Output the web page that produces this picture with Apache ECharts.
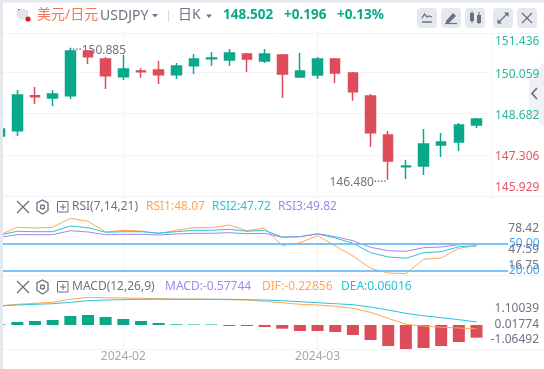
<!DOCTYPE html>
<html><head><meta charset="utf-8">
<style>html,body{margin:0;padding:0;background:#fff}#c{width:544px;height:369px}</style>
<script src="https://cdn.jsdelivr.net/npm/echarts@6/dist/echarts.min.js"></script>
</head><body><div id="c"></div>
<script>
const opens =[147.938,148.114,149.28,149.206,149.283,150.775,150.508,149.917,150.11,150.141,149.984,150.284,150.52,150.474,150.675,150.441,150.641,149.907,149.974,150.508,150.040,149.273,147.971,146.91,146.936,147.637,147.737,148.306];
const closes=[148.171,149.306,149.25,149.339,150.775,150.585,149.950,150.174,150.085,149.984,150.274,150.508,150.545,150.708,150.508,150.675,150.007,150.107,150.508,150.040,149.416,148.048,147.103,146.94,147.671,147.737,148.305,148.502];
const lows  =[147.90,147.938,149.006,148.939,149.173,150.341,149.506,149.807,149.884,149.673,149.840,150.007,150.284,150.274,150.074,150.374,149.206,149.89,149.840,149.707,149.116,147.570,146.480,146.502,146.636,147.237,147.437,148.205];
const highs =[148.20,149.473,149.573,149.473,150.885,150.808,150.575,150.641,150.197,150.441,150.374,150.675,150.741,150.842,150.708,150.842,150.675,150.708,150.575,150.541,150.074,149.339,148.104,147.136,148.171,148.038,148.371,148.538];
const rsi1=[59.80,68.39,67.61,68.39,78.42,75.08,63.15,65.04,64.26,61.25,65.04,67.94,67.94,70.95,64.60,67.61,47.88,51.22,59.02,47.54,36.39,22.68,17.44,16.75,32.71,34.17,44.98,48.07];
const rsi2=[59.80,63.93,63.48,63.48,69.84,67.94,62.81,63.48,63.48,62.03,63.48,65.04,65.04,66.16,63.93,65.04,57.57,57.91,60.92,56.46,50.55,40.07,35.28,33.83,40.07,41.19,46.76,47.72];
const rsi3=[57.24,60.14,60.14,60.14,64.60,63.15,60.14,60.58,60.58,59.80,60.92,61.70,61.70,62.37,61.25,61.70,57.24,57.91,61.25,57.91,53.45,46.09,42.30,41.63,45.65,46.42,48.99,49.82];
const dif=[.738,.796,.838,.880,1.005,1.088,1.071,1.059,1.046,1.030,1.017,1.017,1.005,.988,.975,.921,.863,.796,.767,.713,.630,.463,.213,-.037,-.108,-.162,-.19,-.22856];
const dea=[.725,.767,.796,.821,.880,.946,.975,.988,1.005,1.005,1.005,1.005,1.005,1.005,.988,.975,.946,.905,.863,.821,.780,.684,.559,.421,.321,.238,.155,.06016];
const macd=[.03,.136,.182,.227,.409,.455,.364,.273,.182,.091,.032,.023,.023,-.045,-.045,-.091,-.168,-.273,-.273,-.318,-.455,-.682,-.955,-1.091,-1.045,-.955,-.773,-.57744];
const priceTicks=[151.436,150.059,148.682,147.306,145.929];
const priceGridTicks=[150.059,148.682,147.306];
const rsiTicks=['78.42','47.59','16.75'];
const rsiLevels=[50,20];
const macdTicks=['1.10039','0.01774','-1.06492'];
const dateTickIdx=[7,18];
const dateTickLabels=['2024-02','2024-03'];

const GREEN='#0aa88a',RED='#dc4c5a',ORANGE='#ffa654',CYAN='#2cc3da',PURPLE='#a686e6',BLUE='#7cc2f8';
const GRAY='#6f7383',LINE='#f3f4f7',FILL='#e6e8ef',ICON='#6b7080',AXG='#2db79b',AXR='#e0566a';
const FONT='"Noto Sans","Noto Sans CJK SC",sans-serif';
const xMin=0.187,xMaxMain=27.82,xMaxRsi=28.78;
const idx=a=>a.map((v,i)=>[i,v]);
function xAx(gi,max,showLabel){return {type:'value',gridIndex:gi,min:xMin,max:max,
  axisLine:{show:false},
  axisTick:{show:false,customValues:dateTickIdx},
  splitLine:{show:true,lineStyle:{color:LINE,width:1}},
  axisLabel:{show:showLabel,customValues:dateTickIdx,margin:2,color:'#a3a7b5',fontSize:12,fontFamily:FONT,
    hideOverlap:false,formatter:v=>dateTickLabels[dateTickIdx.indexOf(v)]||''}};}

function txt(x,y,t,color,size,extra){return {type:'text',silent:true,x:x,y:y,z:20,style:Object.assign({text:t,fill:color,fontSize:size||12,fontFamily:FONT,textVerticalAlign:'middle',textAlign:'left'},extra||{})};}
function rect(x,y,w,h,fill,r){return {type:'rect',silent:true,z:15,shape:{x:x,y:y,width:w,height:h,r:r||0},style:{fill:fill}};}
function line(x1,y1,x2,y2,color,w){return {type:'line',silent:true,z:16,shape:{x1:x1,y1:y1,x2:x2,y2:y2},style:{stroke:color,lineWidth:w||1}};}
function poly(pts,fill,z){return {type:'polygon',silent:true,z:z===undefined?17:z,shape:{points:pts},style:{fill:fill}};}
function pl(pts,color,w){return {type:'polyline',silent:true,z:17,shape:{points:pts},style:{stroke:color,lineWidth:w||1.5,fill:null}};}
function tools(y){return [
  line(17,y-6,29,y+6,ICON,1.2),line(29,y-6,17,y+6,ICON,1.2),
  {type:'polygon',silent:true,z:17,shape:{points:[[42.5,y-7],[48,y-4],[48,y+3.5],[42.5,y+7],[37,y+3.5],[37,y-4]]},style:{fill:null,stroke:ICON,lineWidth:1.3}},
  {type:'circle',silent:true,z:17,shape:{cx:42.5,cy:y,r:2},style:{fill:null,stroke:ICON,lineWidth:1.3}},
  {type:'rect',silent:true,z:17,shape:{x:57.5,y:y-5.5,width:10.5,height:10.5},style:{fill:null,stroke:ICON,lineWidth:1}},
  line(60,y,66,y,ICON,1),line(63,y-3,63,y+3,ICON,1)
];}

const graphics=[
  rect(0,0,544,2.5,FILL),rect(0,0,3,369,FILL),
  line(3,33.5,544,33.5,LINE,1),line(491.5,33,491.5,197,LINE,1),line(3,196.5,544,196.5,LINE,1.5),
  line(3,275.5,544,275.5,LINE,1),line(3,349.5,544,349.5,LINE,1),
  // flag
  {type:'circle',silent:true,z:16,shape:{cx:22.5,cy:14,r:5.5},style:{fill:'#e5e6ec'}},
  rect(17,11,11,1.5,'#d8606a'),rect(17,14,11,1.5,'#d8606a'),rect(18,16.5,9,1.3,'#d8606a'),
  rect(18,9,5,4,'#4a5578'),
  {type:'circle',silent:true,z:18,shape:{cx:28,cy:19,r:2.6},style:{fill:'#f01414'}},
  txt(37,15,'美元/日元','#f4774f',14),
  txt(100,16,'USDJPY',GRAY,14),
  poly([[152,14],[158,14],[155,17.5]],GRAY),
  line(168.5,10,168.5,22,'#d9dbe3',1),
  txt(178,15,'日K',GRAY,14),
  poly([[206,14.5],[212,14.5],[209,18]],GRAY),
  txt(223,15,'148.502',GREEN,13.5,{fontWeight:'bold'}),
  txt(284,15,'+0.196',GREEN,13.5,{fontWeight:'bold'}),
  txt(337,15,'+0.13%',GREEN,13.5,{fontWeight:'bold'}),
  rect(417,8,20,20,FILL,4),rect(441,8,20,20,FILL,4),rect(465,8,20,20,FILL,4),rect(493,8,20,20,FILL,4),rect(517,8,20,20,FILL,4),
  pl([[422,18],[424.5,14],[427,17],[429,16],[432,17]],ICON,1.3),line(422,22,432,22,ICON,1.5),
  poly([[446,21],[453,13],[456,16],[449,23],[446,23]],ICON),line(445,23.5,457,23.5,ICON,1.2),
  rect(470,13,4,8,ICON),line(472,11,472,23,ICON,1),rect(477,15,4,8,ICON),line(479,12,479,24,ICON,1),
  line(498,23,508,13,ICON,1.2),poly([[504,12.5],[508.5,12.5],[508.5,17]],ICON),poly([[497.5,19],[497.5,23.5],[502,23.5]],ICON),
  line(522,13,532,23,ICON,1.2),line(532,13,522,23,ICON,1.2),
  poly([[544,62],[529,78],[529,113],[544,127]],'#f0f1f5',-1),
  pl([[537,88],[532,93.5],[537,99]],ICON,1.8),
  ...tools(207),
  txt(72,207,'RSI(7,14,21)',GRAY,12),
  txt(146,207,'RSI1:48.07',ORANGE,12),txt(212,207,'RSI2:47.72',CYAN,12),txt(278,207,'RSI3:49.82',PURPLE,12),
  ...tools(287),
  txt(72,287,'MACD(12,26,9)',GRAY,12),
  txt(165,287,'MACD:-0.57744',PURPLE,12),txt(262,287,'DIF:-0.22856',ORANGE,12),txt(341,287,'DEA:0.06016',CYAN,12),
  txt(539,229,rsiTicks[0],GRAY,12,{textAlign:'right'}),
  txt(539,250,rsiTicks[1],GRAY,12,{textAlign:'right'}),
  txt(539,266,rsiTicks[2],GRAY,12,{textAlign:'right'}),
  txt(539,309,macdTicks[0],GRAY,12,{textAlign:'right'}),
  txt(539,325,macdTicks[1],GRAY,12,{textAlign:'right'}),
  txt(539,340,macdTicks[2],GRAY,12,{textAlign:'right'})
];

const option={
  animation:false,backgroundColor:'#fff',
  grid:[
    {left:3,top:31.2,width:488,height:165},
    {left:3,top:218.3,width:505,height:55.3},
    {left:3,top:297,width:488,height:52}
  ],
  xAxis:[xAx(0,xMaxMain,false),xAx(1,xMaxRsi,false),xAx(2,xMaxMain,true)],
  yAxis:[
    {type:'value',gridIndex:0,position:'right',min:145.929,max:151.436,scale:true,
      axisLine:{show:false},
      axisTick:{show:false,customValues:priceGridTicks},
      splitLine:{show:true,lineStyle:{color:LINE,width:1}},
      axisLabel:{customValues:priceTicks,inside:false,margin:4,fontFamily:FONT,fontSize:12,
        verticalAlignMaxLabel:'bottom',verticalAlignMinLabel:'top',
        formatter:v=>{
          const s=v.toFixed(3);
          if(v===priceTicks[0])return '{t|'+s+'}';
          if(v===priceTicks[4])return '{b|'+s+'}';
          return (v>148?'{g|':'{r|')+s+'}';
        },
        rich:{
          t:{color:AXG,padding:[4,0,0,0]},
          g:{color:AXG,padding:[4,0,0,0]},
          r:{color:AXR,padding:[3,0,0,0]},
          b:{color:AXR,padding:[0,0,2.5,0]}
        }}},
    {type:'value',gridIndex:1,show:false,min:16.75,max:78.42,scale:true,splitLine:{show:false}},
    {type:'value',gridIndex:2,show:false,min:-1.06492,max:1.10039,splitLine:{show:false}},
    {type:'value',gridIndex:2,show:false,min:-1.0909,max:1.2727,splitLine:{show:false}}
  ],
  series:[
    {type:'candlestick',xAxisIndex:0,yAxisIndex:0,barWidth:10,clip:true,
      encode:{x:0,y:[1,2,3,4]},
      data:opens.map((o,i)=>[i,o,closes[i],lows[i],highs[i]]),
      itemStyle:{color:GREEN,color0:RED,borderColor:GREEN,borderColor0:RED,borderWidth:1.5},
      markPoint:{silent:true,symbol:'circle',symbolSize:1,animation:false,itemStyle:{color:'rgba(0,0,0,0)'},
        data:[
          {coord:[4,150.885],value:150.885,label:{show:true,position:'right',distance:0,offset:[-2,3],color:GRAY,fontSize:12,fontFamily:FONT,formatter:'····150.885'}},
          {coord:[22,146.48],value:146.48,label:{show:true,position:'left',distance:0,offset:[-1,3],color:GRAY,fontSize:12,fontFamily:FONT,formatter:'146.480····'}}
        ]}},
    {type:'line',xAxisIndex:1,yAxisIndex:1,data:idx(rsi1),showSymbol:false,lineStyle:{color:ORANGE,width:1},
      markLine:{silent:true,symbol:'none',animation:false,
        lineStyle:{color:BLUE,width:2,type:'solid'},
        label:{show:true,position:'end',distance:1,color:'#4aa6f5',fontSize:12,fontFamily:FONT,formatter:p=>p.value.toFixed(2)},
        data:rsiLevels.map(v=>({yAxis:v}))}},
    {type:'line',xAxisIndex:1,yAxisIndex:1,data:idx(rsi2),showSymbol:false,lineStyle:{color:CYAN,width:1}},
    {type:'line',xAxisIndex:1,yAxisIndex:1,data:idx(rsi3),showSymbol:false,lineStyle:{color:PURPLE,width:1}},
    {type:'bar',xAxisIndex:2,yAxisIndex:3,barWidth:12,data:macd.map((v,i)=>({value:[i,v],itemStyle:{color:v>=0?GREEN:RED}}))},
    {type:'line',xAxisIndex:2,yAxisIndex:2,data:idx(dif),showSymbol:false,lineStyle:{color:ORANGE,width:1}},
    {type:'line',xAxisIndex:2,yAxisIndex:2,data:idx(dea),showSymbol:false,lineStyle:{color:CYAN,width:1}}
  ],
  graphic:graphics
};
const chart=echarts.init(document.getElementById('c'),null,{renderer:'canvas'});
chart.setOption(option);
</script></body></html>
